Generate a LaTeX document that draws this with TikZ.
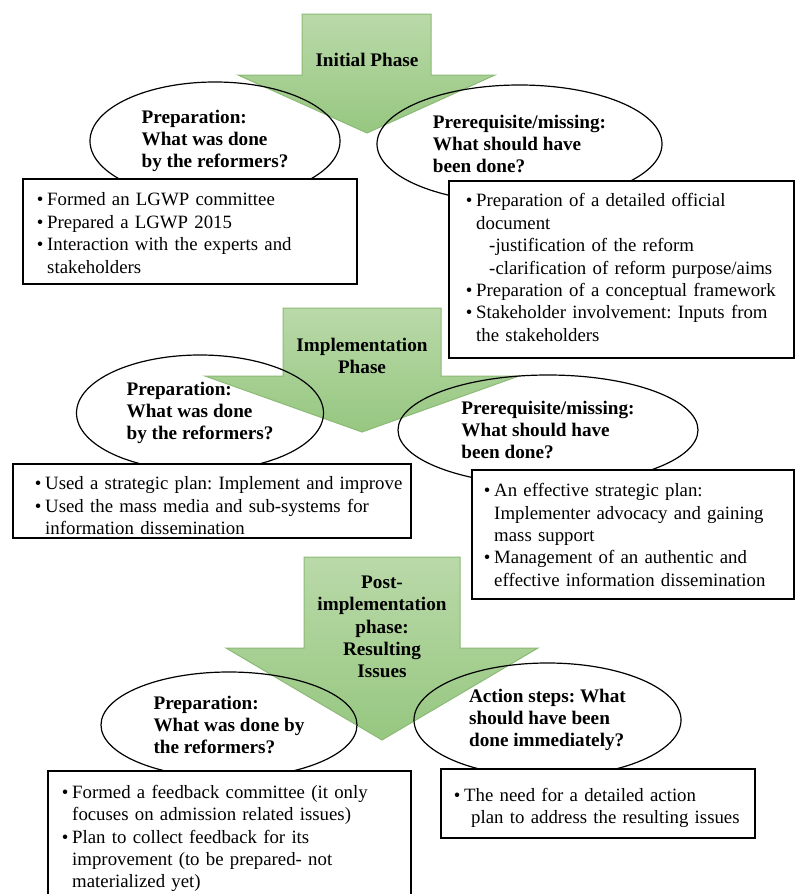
\documentclass[tikz,border=0pt]{standalone}
\usepackage{fontspec}
\setmainfont{Liberation Serif}
\usepackage{tikz}
\usetikzlibrary{shapes.geometric}

\definecolor{phasetop}{RGB}{186,217,169}
\definecolor{phasebot}{RGB}{150,199,128}
\definecolor{phaseline}{RGB}{140,186,118}

\frenchspacing
\hyphenpenalty=10000
\exhyphenpenalty=10000

% bullet line with hanging indent
\newcommand{\bitem}{\par\noindent\hangindent=0.55em\hangafter=1\makebox[0.55em][l]{\textbullet}}

\begin{document}
\begin{tikzpicture}[x=0.5pt,y=-0.5pt]
\tikzstyle{every node}=[font=\fontsize{9.4}{11.2}\selectfont]
\tikzstyle{phase}=[top color=phasetop,bottom color=phasebot,draw=phaseline,line width=0.5pt]
\tikzstyle{plabel}=[align=center,font=\fontsize{9.6}{11.2}\selectfont\bfseries]
\tikzstyle{qoval}=[ellipse,draw,line width=0.6pt,inner sep=0pt,align=left,font=\fontsize{9.6}{11.2}\selectfont\bfseries]
\tikzstyle{listbox}=[rectangle,draw,fill=white,line width=0.9pt,anchor=north west,inner xsep=0pt,inner ysep=0pt,align=left]
\useasboundingbox (0,0) rectangle (794,894);

% phase arrows
\path[phase] (302,14) -- (431,14) -- (431,75) -- (495,75) -- (367,133) -- (238,75) -- (302,75) -- cycle;
\path[phase] (283,308) -- (441,308) -- (441,376) -- (519,376) -- (362,432) -- (205,376) -- (283,376) -- cycle;
\path[phase] (304,557) -- (460,557) -- (460,648) -- (538,648) -- (382,740) -- (226,648) -- (304,648) -- cycle;
\node[plabel] (phase1) at (367,60) {Initial Phase};
\node[plabel] (phase2) at (362,356) {Implementation\\Phase};
\node[plabel] (phase3) at (382,627) {Post-\\implementation\\phase:\\Resulting\\Issues};

% questions
\node[qoval,minimum width=125pt,minimum height=59pt] (did1) at (215,141) {Preparation:\\What was done\\by the reformers?};
\node[qoval,minimum width=142.5pt,minimum height=59pt] (need1) at (519.5,144) {Prerequisite/missing:\\What should have\\been done?};
\node[qoval,minimum width=123.5pt,minimum height=58pt] (did2) at (200,413) {Preparation:\\What was done\\by the reformers?};
\node[qoval,minimum width=150pt,minimum height=55pt] (need2) at (548,430) {Prerequisite/missing:\\What should have\\been done?};
\node[qoval,minimum width=128pt,minimum height=53pt] (did3) at (229,725) {Preparation:\\What was done by\\the reformers?};
\node[qoval,minimum width=133.5pt,minimum height=57pt] (act3) at (547.5,720) {Action steps: What\\should have been\\done immediately?};

% answers
\node[listbox,text width=167pt,minimum height=52.5pt] (didlist1) at (22,178) {\leftskip=7pt
\bitem Formed an LGWP committee
\bitem Prepared a LGWP 2015
\bitem Interaction with the experts and\newline stakeholders\par\kern3pt};
\node[listbox,text width=172.5pt,minimum height=88.5pt] (needlist1) at (448,180) {\leftskip=8.5pt
\bitem Preparation of a detailed official\newline document\newline\hspace*{6.5pt}-justification of the reform\newline\hspace*{6.5pt}-clarification of reform purpose/aims
\bitem Preparation of a conceptual framework
\bitem Stakeholder involvement: Inputs from\newline the stakeholders\par\kern6.5pt};
\node[listbox,text width=199pt,minimum height=37pt] (didlist2) at (12,463) {\leftskip=11pt
\bitem Used a strategic plan: Implement and improve
\bitem Used the mass media and sub-systems for\newline information dissemination\par};
\node[listbox,text width=161pt,minimum height=64.5pt] (needlist2) at (471,469) {\leftskip=6pt
\bitem An effective strategic plan:\newline Implementer advocacy and gaining\newline mass support
\bitem Management of an authentic and\newline effective information dissemination\par\kern4pt};
\node[listbox,text width=181.5pt,minimum height=63pt] (didlist3) at (47,770) {\leftskip=7pt
\bitem Formed a feedback committee (it only\newline focuses on admission related issues)
\bitem Plan to collect feedback for its\newline improvement (to be prepared- not\newline materialized yet)\par};
\node[listbox,text width=157pt,minimum height=34.5pt] (actlist3) at (440,768) {\leftskip=6.5pt
\bitem The need for a detailed action\newline\hspace*{3.5pt}plan to address the resulting issues\par};
\end{tikzpicture}
\end{document}
